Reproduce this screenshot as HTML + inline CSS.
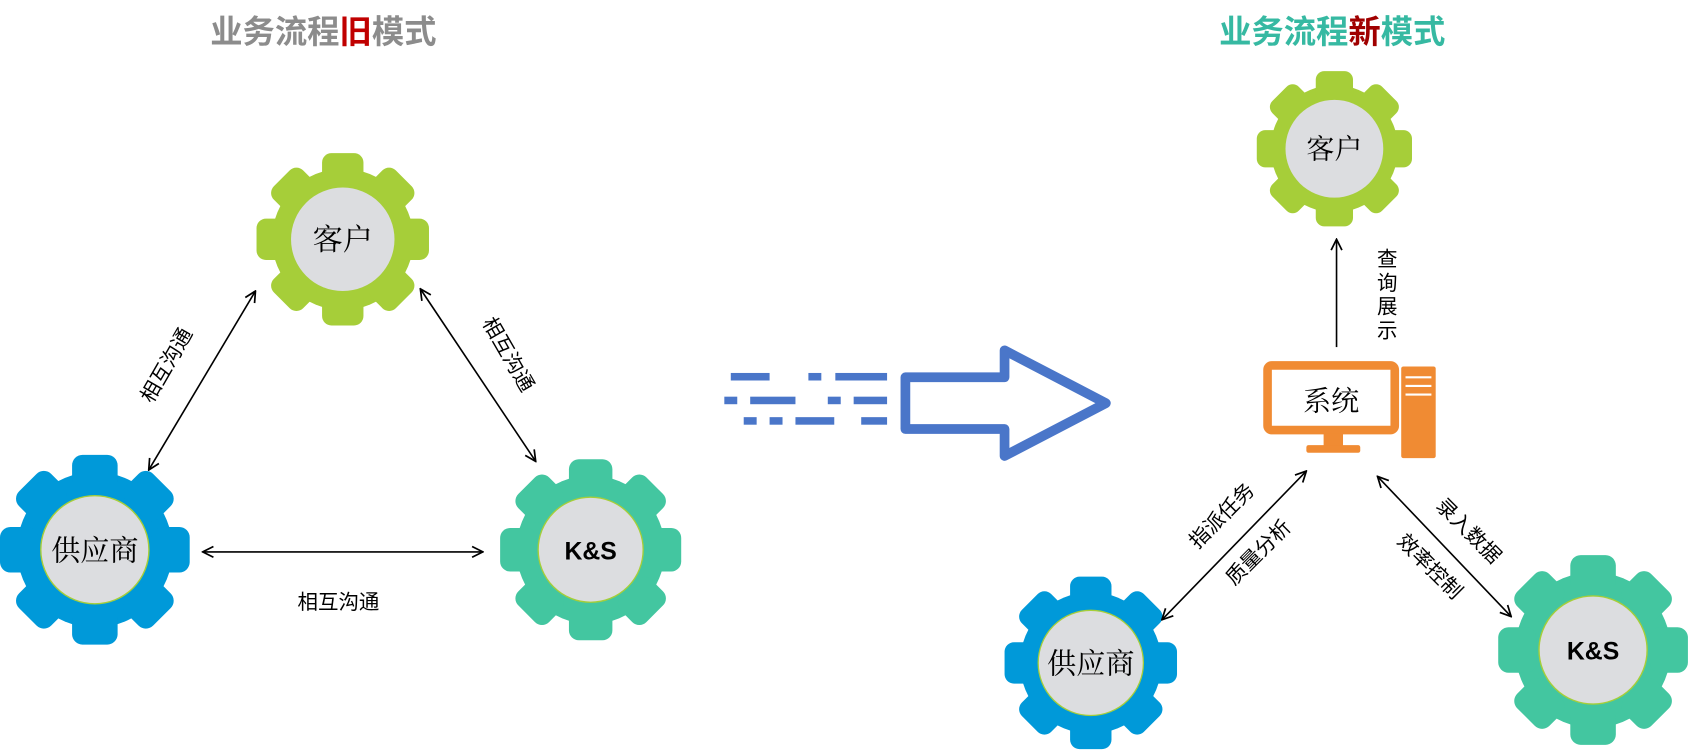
<!DOCTYPE html>
<html><head><meta charset="utf-8"><style>
html,body{margin:0;padding:0;background:#fff;}
svg{display:block;}
.s{font-family:"Liberation Sans","Noto Sans CJK SC",sans-serif;}
.r{font-family:"Liberation Serif","Noto Serif CJK SC",serif;}
</style></head><body>
<svg width="1689" height="754" viewBox="0 0 1567 699.5" preserveAspectRatio="none" xmlns="http://www.w3.org/2000/svg">
<defs>
<g id="teeth">
<circle r="82"/>
<rect x="-24" y="-100" width="48" height="40" rx="11"/>
<rect x="-24" y="-100" width="48" height="40" rx="11" transform="rotate(45)"/>
<rect x="-24" y="-100" width="48" height="40" rx="11" transform="rotate(90)"/>
<rect x="-24" y="-100" width="48" height="40" rx="11" transform="rotate(135)"/>
<rect x="-24" y="-100" width="48" height="40" rx="11" transform="rotate(180)"/>
<rect x="-24" y="-100" width="48" height="40" rx="11" transform="rotate(225)"/>
<rect x="-24" y="-100" width="48" height="40" rx="11" transform="rotate(270)"/>
<rect x="-24" y="-100" width="48" height="40" rx="11" transform="rotate(315)"/>
</g>
<marker id="ah" viewBox="0 0 12 12" refX="11" refY="6" markerWidth="12" markerHeight="12" markerUnits="userSpaceOnUse" orient="auto-start-reverse">
<path d="M1,1 L11,6 L1,11" fill="none" stroke="#000" stroke-width="1.6"/>
</marker>
</defs>

<text x="300" y="40" text-anchor="middle" class="s" font-size="30" font-weight="bold" fill="#8c8c8c">业务流程<tspan fill="#c00000">旧</tspan>模式</text>
<text x="1236" y="40" text-anchor="middle" class="s" font-size="30" font-weight="bold" fill="#36b9a2">业务流程<tspan fill="#a00000">新</tspan>模式</text>

<g transform="translate(318,222) scale(0.8)"><use href="#teeth" fill="#a6ce39"/><circle r="60" fill="#dcdde0"/></g>
<text x="318" y="232" text-anchor="middle" class="r" font-size="28">客户</text>
<g transform="translate(88,510) scale(0.88)"><use href="#teeth" fill="#0099d9"/><circle r="57" fill="#dcdde0" stroke="#a6ce39" stroke-width="1.5"/></g>
<text x="88" y="520" text-anchor="middle" class="r" font-size="27">供应商</text>
<g transform="translate(548,510) scale(0.84)"><use href="#teeth" fill="#43c6a0"/><circle r="58" fill="#dcdde0" stroke="#a6ce39" stroke-width="1.5"/></g>
<text x="548" y="519" text-anchor="middle" class="s" font-size="23" font-weight="bold">K&amp;S</text>

<g stroke="#000" stroke-width="1.5" fill="none">
<line x1="237" y1="270" x2="138" y2="436" marker-start="url(#ah)" marker-end="url(#ah)"/>
<line x1="390" y1="268" x2="497" y2="428" marker-start="url(#ah)" marker-end="url(#ah)"/>
<line x1="188" y1="512" x2="448" y2="512" marker-start="url(#ah)" marker-end="url(#ah)"/>
</g>
<text class="s" font-size="19" text-anchor="middle" transform="translate(160,342) rotate(-60)">相互沟通</text>
<text class="s" font-size="19" text-anchor="middle" transform="translate(466,332) rotate(60)">相互沟通</text>
<text x="314" y="565" class="s" font-size="19" text-anchor="middle">相互沟通</text>

<g fill="#4a76c9">
<rect x="678" y="346" width="36" height="7"/><rect x="750" y="346" width="12" height="7"/><rect x="775" y="346" width="48" height="7"/>
<rect x="672" y="368" width="12" height="7"/><rect x="696" y="368" width="42" height="7"/><rect x="768" y="368" width="12" height="7"/><rect x="792" y="368" width="31" height="7"/>
<rect x="690" y="387" width="12" height="7"/><rect x="714" y="387" width="12" height="7"/><rect x="738" y="387" width="36" height="7"/><rect x="799" y="387" width="24" height="7"/>
</g>
<path d="M840,350 L932,350 L932,325 L1026,374 L932,423 L932,398 L840,398 Z" fill="none" stroke="#4a76c9" stroke-width="9" stroke-linejoin="round"/>

<g transform="translate(1238,138) scale(0.72)"><use href="#teeth" fill="#a6ce39"/><circle r="63" fill="#dcdde0"/></g>
<text x="1238" y="147" text-anchor="middle" class="r" font-size="26">客户</text>
<g transform="translate(1012,615) scale(0.8)"><use href="#teeth" fill="#0099d9"/><circle r="61" fill="#dcdde0" stroke="#a6ce39" stroke-width="1.5"/></g>
<text x="1012" y="625" text-anchor="middle" class="r" font-size="27">供应商</text>
<g transform="translate(1478,603) scale(0.88)"><use href="#teeth" fill="#43c6a0"/><circle r="57" fill="#dcdde0" stroke="#a6ce39" stroke-width="1.5"/></g>
<text x="1478" y="612" text-anchor="middle" class="s" font-size="23" font-weight="bold">K&amp;S</text>

<rect x="1176" y="339" width="118" height="60" rx="4" fill="#fff" stroke="#f08b33" stroke-width="8"/>
<rect x="1228" y="402" width="18" height="12" fill="#f08b33"/>
<rect x="1212" y="413" width="50" height="7" rx="2" fill="#f08b33"/>
<rect x="1300" y="340" width="32" height="85" rx="2" fill="#f08b33"/>
<g stroke="#fff" stroke-width="2"><line x1="1304" y1="350" x2="1328" y2="350"/><line x1="1304" y1="358" x2="1328" y2="358"/><line x1="1304" y1="366" x2="1328" y2="366"/></g>
<text x="1235" y="381" text-anchor="middle" class="r" font-size="26">系统</text>

<g stroke="#000" stroke-width="1.5" fill="none">
<line x1="1240" y1="322" x2="1240" y2="222" marker-end="url(#ah)"/>
<line x1="1212" y1="437" x2="1078" y2="575" marker-start="url(#ah)" marker-end="url(#ah)"/>
<line x1="1278" y1="442" x2="1402" y2="572" marker-start="url(#ah)" marker-end="url(#ah)"/>
</g>
<g class="s" font-size="19" text-anchor="middle">
<text x="1287" y="247">查</text><text x="1287" y="269">询</text><text x="1287" y="291">展</text><text x="1287" y="313">示</text>
</g>
<text class="s" font-size="19" text-anchor="middle" transform="translate(1138,483) rotate(-45)">指派任务</text>
<text class="s" font-size="19" text-anchor="middle" transform="translate(1172,517) rotate(-45)">质量分析</text>
<text class="s" font-size="19" text-anchor="middle" transform="translate(1358,497) rotate(45)">录入数据</text>
<text class="s" font-size="19" text-anchor="middle" transform="translate(1322,530) rotate(45)">效率控制</text>
</svg>
</body></html>
